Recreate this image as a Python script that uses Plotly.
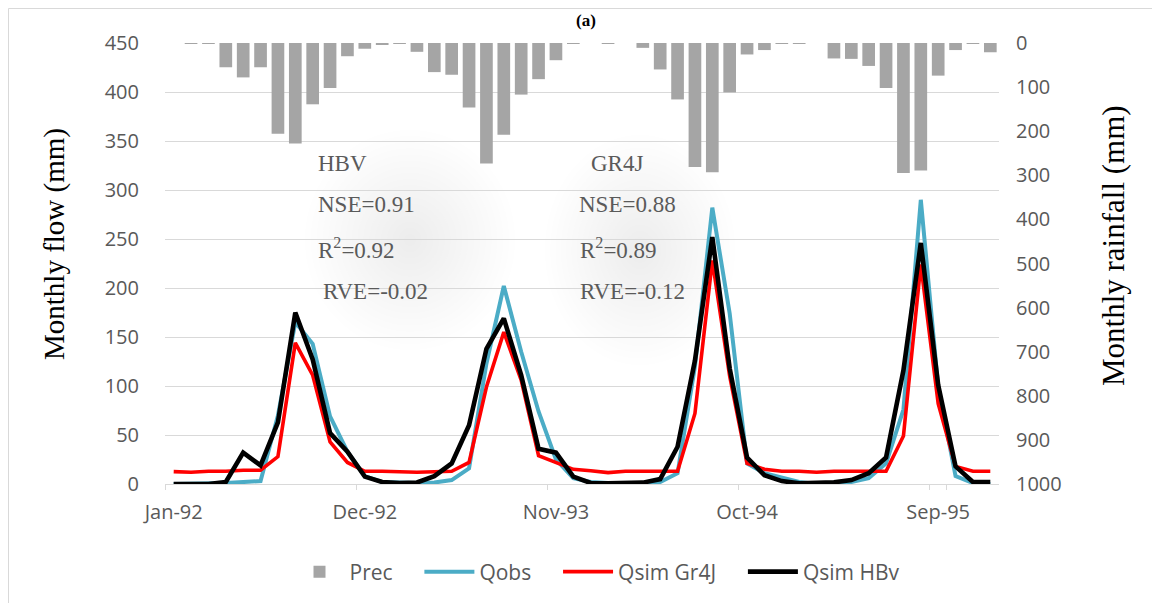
import plotly.graph_objects as go

# ---------------- data ----------------
month_names = ["Jan", "Feb", "Mar", "Apr", "May", "Jun",
               "Jul", "Aug", "Sep", "Oct", "Nov", "Dec"]
years = ["92", "93", "94", "95"]
months = [f"{m}-{y}" for y in years for m in month_names]

tick_labels = ["Jan-92", "Dec-92", "Nov-93", "Oct-94", "Sep-95"]

prec = [0, 2, 2, 55, 78, 55, 206, 228, 139, 102, 30, 13,
        3, 2, 20, 66, 72, 146, 273, 208, 117, 82, 39, 1,
        0, 2, 0, 11, 60, 128, 281, 293, 112, 26, 16, 2,
        1, 0, 35, 36, 52, 102, 295, 289, 74, 16, 1, 21]

qobs = [0, 0, 0, 1, 2, 3, 70, 165, 143, 69, 33, 8,
        2, 1, 1, 1.5, 4, 16, 123, 202, 135, 74, 25, 6,
        2, 1, 0, 0, 2, 11, 120, 282, 174, 21, 11, 6,
        2, 0, 0, 2, 6, 21, 76, 290, 99, 8, 1, 0]

qsim_gr4j = [12.6, 12, 13, 13, 14, 14, 28, 144, 111, 43, 22, 13,
             13, 12.5, 12, 12.5, 13, 22, 99, 155, 106, 29, 22, 15,
             13.5, 11.6, 13, 13, 13, 13, 72, 228, 110, 21, 15, 13,
             13, 12, 13, 13, 13, 13, 49, 224, 82, 18, 13, 13]

qsim_hbv = [0, 0, 0, 2, 32, 19, 63, 175, 127, 52, 33, 7.5,
            2, 1, 1.5, 8, 21, 60, 138, 169, 111, 36, 32, 7.5,
            1, 0.7, 0.7, 1.4, 5, 38, 126, 252, 118, 27, 9, 3,
            0.7, 0.7, 1.7, 4, 11, 27, 116, 246, 101, 18, 2, 2]

series_names = ["Prec", "Qobs", "Qsim Gr4J", "Qsim HBv"]

hbv_stats = ["HBV", "NSE=0.91", "R<sup>2</sup>=0.92", "RVE=-0.02"]
gr4j_stats = ["GR4J", "NSE=0.88", "R<sup>2</sup>=0.89", "RVE=-0.12"]

# ---------------- layout geometry (screen pixels) ----------------
OFF = 8                      # page body margin
FW, FH = 1160 - OFF, 603 - OFF
L, R, T, B = 165, 999, 43, 484   # plot area in screen pixels
PW, PH = R - L, B - T


def px(xp):
    return (xp - L) / PW


def py(yp):
    return (B - yp) / PH


GRID = "#d9d9d9"
TICKC = "#595959"
TICKFONT = dict(family="Open Sans", size=20, color=TICKC)
SERIF = "Liberation Serif"
PAD = "\u00a0" * 4   # extra spacing after legend entries

fig = go.Figure()

fig.add_trace(go.Bar(
    x=months, y=prec, name=series_names[0] + PAD, yaxis="y2",
    marker=dict(color="#a5a5a5", line=dict(width=0)),
))
fig.add_trace(go.Scatter(
    x=months, y=qobs, name=series_names[1] + PAD, mode="lines",
    line=dict(color="#4bacc6", width=4),
))
fig.add_trace(go.Scatter(
    x=months, y=qsim_gr4j, name=series_names[2] + PAD, mode="lines",
    line=dict(color="#ff0000", width=3.6),
))
fig.add_trace(go.Scatter(
    x=months, y=qsim_hbv, name=series_names[3], mode="lines",
    line=dict(color="#000000", width=4.6),
))

annotations = []
hbv_x = [316, 316, 316, 321]
gr4j_x = [589, 577, 578, 578]
rows_y = [163, 205, 248, 291]
for txt, xx, yy in zip(hbv_stats, hbv_x, rows_y):
    annotations.append(dict(text=txt, x=px(xx), y=py(yy), xref="paper", yref="paper",
                            xanchor="left", yanchor="middle", showarrow=False,
                            font=dict(family=SERIF, size=23, color="#5a5a5a")))
for txt, xx, yy in zip(gr4j_stats, gr4j_x, rows_y):
    annotations.append(dict(text=txt, x=px(xx), y=py(yy), xref="paper", yref="paper",
                            xanchor="left", yanchor="middle", showarrow=False,
                            font=dict(family=SERIF, size=23, color="#5a5a5a")))
annotations.append(dict(text="Monthly flow (mm)", x=px(55), y=py(244), xref="paper", yref="paper",
                        textangle=-90, showarrow=False, xanchor="center", yanchor="middle",
                        font=dict(family=SERIF, size=29, color="#000000")))
annotations.append(dict(text="Monthly rainfall (mm)", x=px(1113), y=py(246), xref="paper", yref="paper",
                        textangle=-90, showarrow=False, xanchor="center", yanchor="middle",
                        font=dict(family=SERIF, size=31, color="#000000")))
annotations.append(dict(text="<b>(a)</b>", x=px(586), y=py(9), xref="paper", yref="paper",
                        xanchor="center", yanchor="top", showarrow=False,
                        font=dict(family=SERIF, size=17, color="#000000")))

shapes = []
for (cx, cy, rx, ry) in [(410, 240, 105, 110), (640, 250, 95, 115)]:
    n = 18
    for k in range(n):
        s = 1 - k / n
        shapes.append(dict(type="circle", xref="paper", yref="paper",
                           x0=px(cx - rx * s), x1=px(cx + rx * s),
                           y0=py(cy + ry * s), y1=py(cy - ry * s),
                           fillcolor="rgba(90,90,90,0.008)", line=dict(width=0), layer="below"))
shapes.append(dict(type="rect", xref="paper", yref="paper",
                   x0=px(8.5), x1=px(1175), y0=py(620), y1=py(8.5),
                   line=dict(color=GRID, width=1), fillcolor="rgba(0,0,0,0)", layer="below"))

fig.update_layout(
    width=FW, height=FH,
    margin=dict(l=L - OFF, r=FW - (R - OFF), t=T - OFF, b=FH - (B - OFF), pad=0, autoexpand=False),
    paper_bgcolor="white", plot_bgcolor="white",
    bargap=0.27,
    showlegend=True,
    legend=dict(orientation="h", x=px(597), xanchor="center", y=py(572), yanchor="middle",
                font=dict(family="Open Sans", size=21, color=TICKC),
                bgcolor="rgba(0,0,0,0)", itemwidth=50, tracegroupgap=0),
    xaxis=dict(type="category", range=[-0.5, len(months) - 0.5],
               tickmode="array", tickvals=tick_labels, ticktext=tick_labels,
               tickson="boundaries", ticks="outside", ticklen=5, tickcolor=GRID,
               tickangle=0, automargin=False,
               showgrid=False, showline=True, linecolor=GRID, linewidth=1,
               tickfont=TICKFONT, ticklabelstandoff=10),
    yaxis=dict(range=[0, 450], dtick=50, tick0=0, showgrid=True, gridcolor=GRID, gridwidth=1,
               zeroline=False, showline=False, ticks="", tickfont=TICKFONT,
               automargin=False, ticklabelstandoff=25),
    yaxis2=dict(range=[1000, 0], dtick=100, tick0=0, overlaying="y", side="right",
                showgrid=False, zeroline=False, showline=False, ticks="",
                automargin=False, tickfont=TICKFONT, ticklabelstandoff=16),
    annotations=annotations,
    shapes=shapes,
)

fig.write_html("out.html")
